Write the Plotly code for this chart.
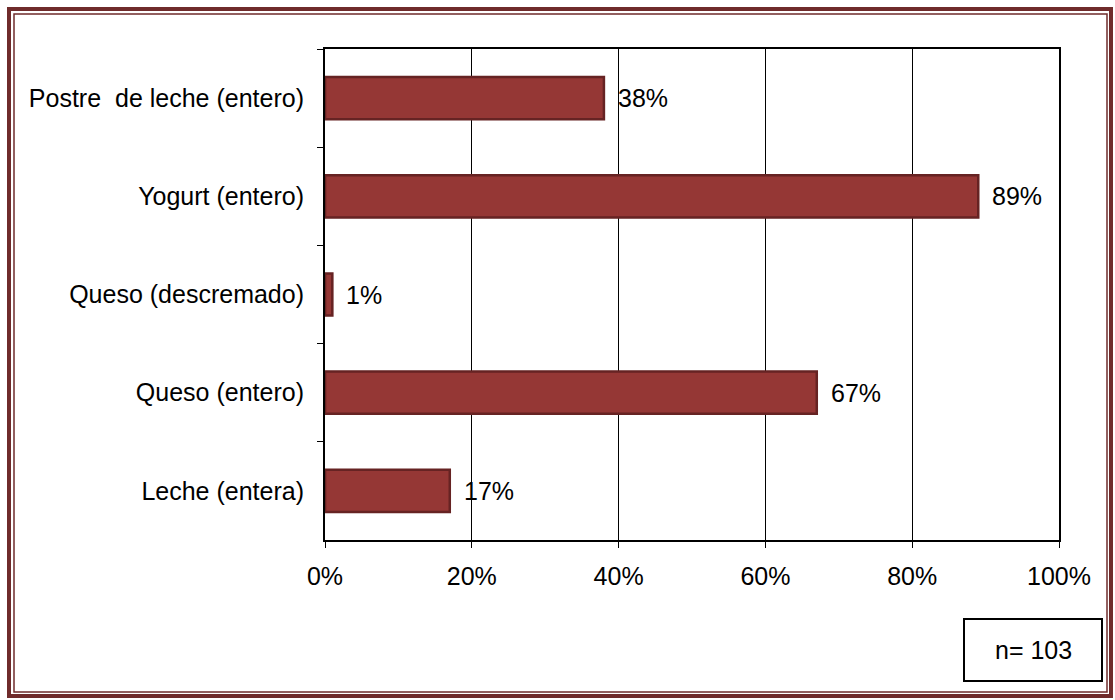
import plotly.graph_objects as go

# Consumption of dairy products (share of respondents)
categories = [
    "Postre\u00a0 de leche (entero)",
    "Yogurt (entero)",
    "Queso (descremado)",
    "Queso (entero)",
    "Leche (entera)",
]
values = [38, 89, 1, 67, 17]
x_ticks = [0, 20, 40, 60, 80, 100]
x_tick_labels = ["0%", "20%", "40%", "60%", "80%", "100%"]
sample_note = "n= 103"

W, H = 1115, 700
L, R, T, B = 325, 56, 49, 160
PW, PH = W - L - R, H - T - B

FONT = "Liberation Sans, Arial, sans-serif"
FS = 25
BAR_FILL = "#953735"
BAR_EDGE = "#662323"
FRAME = "#6f2b2b"


def px_x(p):
    return (p - L) / PW


def px_y(p):
    return 1 - (p - T) / PH


fig = go.Figure(
    go.Bar(
        x=values,
        y=categories,
        orientation="h",
        width=0.43,
        marker=dict(color=BAR_FILL, line=dict(color=BAR_EDGE, width=2.5)),
        hoverinfo="skip",
    )
)

# value labels to the right of each bar
for cat, v in zip(categories, values):
    fig.add_annotation(
        x=v, y=cat, text=f"{v}%", showarrow=False,
        xanchor="left", yanchor="middle", xshift=12,
        font=dict(family=FONT, size=FS, color="black"),
    )

# sample size box
fig.add_shape(
    type="rect", xref="paper", yref="paper",
    x0=px_x(964), x1=px_x(1102), y0=px_y(681), y1=px_y(619),
    line=dict(color="black", width=2), fillcolor="white",
)
fig.add_annotation(
    xref="paper", yref="paper", x=px_x(1033), y=px_y(650),
    text=sample_note, showarrow=False, xanchor="center", yanchor="middle",
    font=dict(family=FONT, size=FS, color="black"),
)

# double outer frame
fig.add_shape(
    type="rect", xref="paper", yref="paper",
    x0=px_x(9), x1=px_x(1111), y0=px_y(696), y1=px_y(9),
    line=dict(color=FRAME, width=4), layer="below",
)
fig.add_shape(
    type="rect", xref="paper", yref="paper",
    x0=px_x(14), x1=px_x(1107), y0=px_y(692), y1=px_y(14),
    line=dict(color=FRAME, width=1.5), layer="below",
)

fig.update_layout(
    width=W, height=H,
    margin=dict(l=L, r=R, t=T, b=B, autoexpand=False),
    paper_bgcolor="white", plot_bgcolor="white",
    showlegend=False,
    font=dict(family=FONT, size=FS, color="black"),
    bargap=0.57,
)
fig.update_xaxes(
    range=[0, 100], tickvals=x_ticks, ticktext=x_tick_labels,
    showgrid=True, gridcolor="black", gridwidth=1,
    showline=True, linecolor="black", linewidth=2, mirror=True,
    ticks="outside", ticklen=6, tickcolor="black", tickwidth=1,
    ticklabelstandoff=7, zeroline=False, fixedrange=True,
    tickfont=dict(family=FONT, size=FS, color="black"),
)
fig.update_yaxes(
    autorange="reversed", type="category",
    showline=True, linecolor="black", linewidth=2, mirror=True,
    ticks="outside", ticklen=6, tickcolor="black", tickwidth=1,
    tickson="boundaries", showgrid=False, ticklabelstandoff=14,
    fixedrange=True,
    tickfont=dict(family=FONT, size=FS, color="black"),
)

fig.write_html("out.html")
